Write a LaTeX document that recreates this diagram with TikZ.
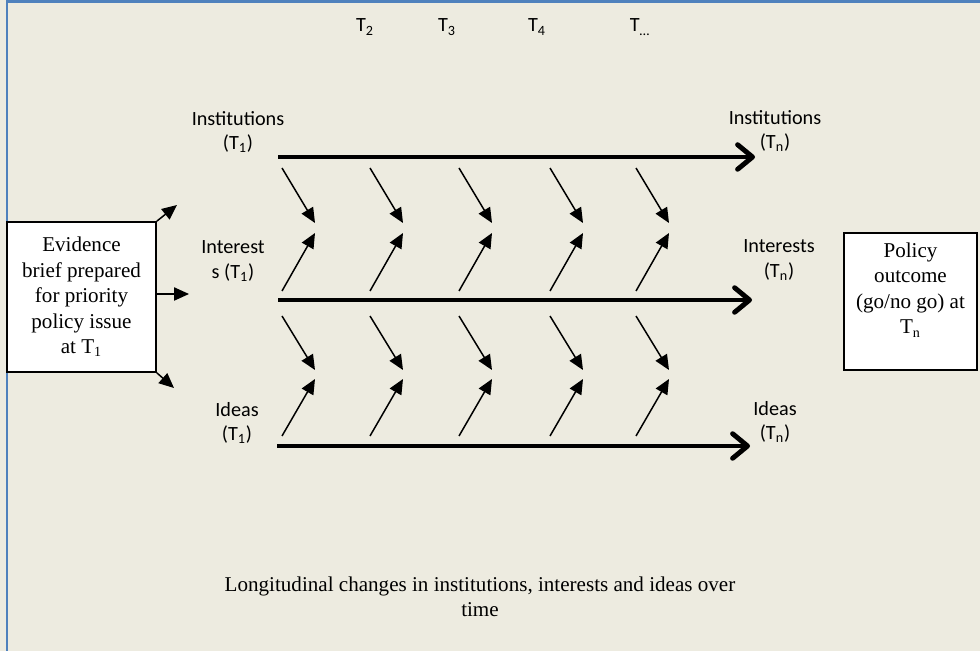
\documentclass[tikz,border=0pt]{standalone}
\usepackage{fontspec}
\setmainfont{Liberation Serif}
\newfontfamily\calibri{Carlito}
\usepackage{tikz}
\usetikzlibrary{positioning,arrows.meta}
\definecolor{paper}{RGB}{237,235,224}
\definecolor{frameblue}{RGB}{79,129,189}
\tikzset{
  lbl/.style={font=\calibri\fontsize{11.5}{14}\selectfont, align=center},
  serif/.style={font=\fontsize{12}{14.5}\selectfont, align=center},
  brief/.style={draw, fill=white, line width=1pt, serif},
  track/.style={line width=2.8pt, -{Straight Barb[length=8.5pt,width=14pt,round]}},
  push/.style={line width=0.85pt, -{Triangle[length=8.5pt,width=7.5pt]}}
}

\begin{document}
\begin{tikzpicture}[x=0.02cm,y=-0.02cm]
\fill[paper] (0,0) rectangle (980,651);
\useasboundingbox (0,0) rectangle (980,651);
\draw[frameblue,line width=1.2pt] (980,1.5) -- (7,1.5) -- (7,651);

\node[lbl] (t2) at (365,27) {T\textsubscript{2}};
\node[lbl] (t3) at (447,27) {T\textsubscript{3}};
\node[lbl] (t4) at (537,27) {T\textsubscript{4}};
\node[lbl] (tx) at (640,27) {T\textsubscript{\dots}};

\node[brief, minimum width=2.98cm, minimum height=3cm] (ev) at (81.5,297) {Evidence\\brief prepared\\for priority\\policy issue\\at T\textsubscript{1}};
\node[brief, minimum width=2.66cm, minimum height=2.74cm] (po) at (910.5,301.5) {};
\node[serif] (pot) at (910.5,290) {Policy\\outcome\\(go/no go) at\\T\textsubscript{n}};

\node[lbl] (inst1) at (238,132) {Institutions\\(T\textsubscript{1})};
\node[lbl] (int1) at (233,261) {Interest\\s (T\textsubscript{1})};
\node[lbl] (idea1) at (237,423) {Ideas\\(T\textsubscript{1})};
\node[lbl] (instn) at (775,131) {Institutions\\(T\textsubscript{n})};
\node[lbl] (intn) at (779,260) {Interests\\(T\textsubscript{n})};
\node[lbl] (idean) at (775,422) {Ideas\\(T\textsubscript{n})};

\node[serif] (cap) at (480,597) {Longitudinal changes in institutions, interests and ideas over\\time};

\coordinate (A) at (278,157);
\coordinate (B) at (755,157);
\coordinate (C) at (278,300);
\coordinate (D) at (752,300);
\coordinate (E) at (277,446);
\coordinate (F) at (750,446);
\draw[track] (A) -- (B);
\draw[track] (C) -- (D);
\draw[track] (E) -- (F);

\coordinate (e1) at (177,205);
\coordinate (e2) at (189,294);
\coordinate (e3) at (174,388);
\draw[push] (ev.north east) -- (e1);
\draw[push] (ev.east |- e2) -- (e2);
\draw[push] (ev.south east) -- (e3);

\foreach \x [count=\i] in {282,370,459,550,636}{
  \coordinate (p\i) at (\x,168);
  \coordinate (q\i) at (\x+33,223);
  \coordinate (r\i) at (\x,291);
  \coordinate (s\i) at (\x+33,233);
  \coordinate (u\i) at (\x,316);
  \coordinate (v\i) at (\x+33,370);
  \coordinate (w\i) at (\x,436);
  \coordinate (z\i) at (\x+33,379);
  \draw[push] (p\i) -- (q\i);
  \draw[push] (r\i) -- (s\i);
  \draw[push] (u\i) -- (v\i);
  \draw[push] (w\i) -- (z\i);
}
\end{tikzpicture}
\end{document}
